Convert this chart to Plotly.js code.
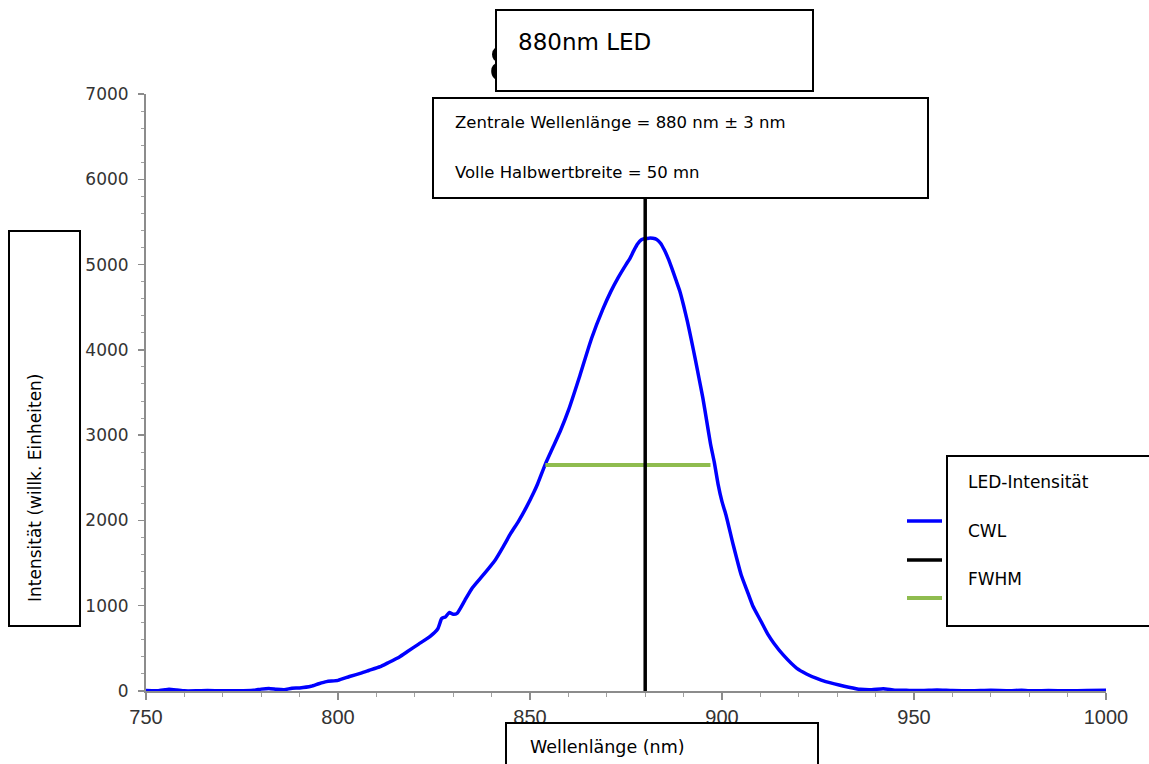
<!DOCTYPE html>
<html>
<head>
<meta charset="utf-8">
<script src="https://cdn.plot.ly/plotly-3.0.1.min.js"></script>
<style>html,body{margin:0;padding:0;background:#fff;}#chart{width:1149px;height:764px;}</style>
</head>
<body>
<div id="chart"></div>
<script>
// Spectrum of the 880nm LED (wavelength in nm, intensity in arbitrary units)
const wavelength = [750,753,755,756,758,760,763,766,770,774,778,780,782,784,786,788,790,793,795,797,800,803,806,808,811,813,816,818,821,824,826,827,828,829,830,831,833,835,838,841,843,845,847,849,851,852,854,856,858,860,863,866,869,871,873,875,876,877,878,879,880,881,882,883,884,885,886,887,888,889,890,891,892,893,894,895,896,897,898,899,900,901,903,905,906.5,908,910,912,913.5,916,919.5,922,924.5,927,930.5,933,936,939,942,945,948,952,956,960,965,970,975,978,980,985,990,995,1000];
const intensity  = [5,3,15,20,12,2,2,5,3,2,8,22,30,20,15,32,36,55,85,110,125,170,210,240,285,330,400,460,550,640,730,850,870,920,900,910,1060,1210,1370,1540,1690,1850,1990,2150,2330,2430,2660,2860,3060,3290,3700,4130,4480,4680,4850,5000,5070,5160,5240,5290,5305,5310,5308,5295,5250,5170,5070,4950,4820,4690,4520,4330,4120,3900,3670,3440,3170,2900,2680,2420,2220,2070,1700,1360,1180,1000,830,660,560,420,266,200,150,110,70,45,20,15,27,10,8,5,12,5,3,8,3,10,2,5,3,6,8];
const cwlX = [880, 880];
const cwlY = [0, 6000];
const fwhmX = [854, 897];
const fwhmY = [2650, 2650];

const chartTitle = '880nm LED';
const hiddenTitleStart = '8';
const infoLines = ['Zentrale Wellenlänge = 880 nm ± 3 nm', 'Volle Halbwertbreite = 50 mn'];
const xTitle = 'Wellenlänge (nm)';
const yTitle = 'Intensität (willk. Einheiten)';
const legendNames = ['LED-Intensität', 'CWL', 'FWHM'];
const legendColors = ['#0000ff', '#000000', '#8fbc4f'];

// pixel -> paper helpers (layout positions only)
const L = 146, R = 1106, T = 94, B = 691;
const px = x => (x - L) / (R - L);
const py = y => (B - y) / (B - T);
const boxFont = 'DejaVu Sans, sans-serif';

function box(x0, y0, x1, y1) {
  return {xref:'paper', yref:'paper', x: px(x0), y: py(y0), xanchor:'left', yanchor:'top',
    text:' ', showarrow:false, width: x1 - x0 - 2, height: y1 - y0 - 2, bgcolor:'#ffffff',
    bordercolor:'#000000', borderwidth:2, borderpad:0};
}
function label(x, y, text, size, extra) {
  return Object.assign({xref:'paper', yref:'paper', x: px(x), y: py(y), xanchor:'left', yanchor:'middle',
    text: text, showarrow:false, font:{family: boxFont, size: size, color:'#000'}}, extra || {});
}

const traces = [
  {x: wavelength, y: intensity, type:'scatter', mode:'lines', name: legendNames[0],
   line:{color: legendColors[0], width:3.5, shape:'spline', smoothing:0.5}},
  {x: fwhmX, y: fwhmY, type:'scatter', mode:'lines', name: legendNames[2],
   line:{color: legendColors[2], width:4}},
  {x: cwlX, y: cwlY, type:'scatter', mode:'lines', name: legendNames[1],
   line:{color: legendColors[1], width:3.5}}
];

const annotations = [
  // left edge of the original large title, hidden behind the white box
  {xref:'paper', yref:'paper', x: px(487), y: py(64), xanchor:'left', yanchor:'middle', text: hiddenTitleStart,
   showarrow:false, font:{family:'Liberation Sans, Arial, sans-serif', size:50, color:'#000'}},
  box(495, 9, 812, 90),
  box(432, 97, 927, 197),
  box(8, 230, 79, 625),
  box(505, 722, 817, 790),
  box(946, 455, 1160, 625),
  label(516, 42, chartTitle, 23),
  label(453, 123, infoLines[0], 16.5),
  label(453, 172, infoLines[1], 16.5),
  {xref:'paper', yref:'paper', x: px(35), y: py(488), xanchor:'center', yanchor:'middle', text: yTitle,
   textangle:-90, showarrow:false, font:{family: boxFont, size:17, color:'#000'}},
  label(528, 747, xTitle, 17.5),
  label(966, 482, legendNames[0], 17),
  label(966, 531, legendNames[1], 17),
  label(966, 579, legendNames[2], 17)
];

const legendY = [521, 560, 598];
const shapes = legendY.map((y, i) => ({type:'line', xref:'paper', yref:'paper', layer:'above',
  x0: px(907), x1: px(942), y0: py(y), y1: py(y), line:{color: legendColors[i], width: i === 2 ? 4 : 3.5}}));

const layout = {
  width:1149, height:764,
  margin:{l:L, r:1149 - R, t:T, b:764 - B, pad:0},
  paper_bgcolor:'#ffffff', plot_bgcolor:'#ffffff',
  showlegend:false,
  xaxis:{range:[750,1000], dtick:50, tick0:750, showgrid:false, zeroline:false,
    showline:true, linecolor:'#8c8c8c', linewidth:2, ticks:'outside', ticklen:7, tickwidth:1.5,
    tickcolor:'#8c8c8c', tickfont:{family:'Liberation Sans, Arial, sans-serif', size:20, color:'#333333'},
    minor:{dtick:10, ticks:'outside', ticklen:4, tickcolor:'#a0a0a0', tickwidth:1}},
  yaxis:{range:[0,7000], dtick:1000, tick0:0, showgrid:false, zeroline:false,
    showline:true, linecolor:'#8c8c8c', linewidth:2, ticks:'outside', ticklen:6, tickwidth:1.5,
    tickcolor:'#8c8c8c', tickfont:{family:'DejaVu Sans, sans-serif', size:17, color:'#333333'}, ticklabelstandoff:6,
    minor:{dtick:200, ticks:'outside', ticklen:3, tickcolor:'#a0a0a0', tickwidth:1}},
  yaxis2:{overlaying:'y', anchor:'x', side:'left', range:[0,7000], dtick:1000, showgrid:false,
    zeroline:false, showline:false, ticks:'inside', ticklen:6, tickwidth:1.5, tickcolor:'#8c8c8c',
    showticklabels:false},
  shapes: shapes,
  annotations: annotations
};

Plotly.newPlot('chart', traces, layout, {displayModeBar:false, staticPlot:true});
</script>
</body>
</html>
